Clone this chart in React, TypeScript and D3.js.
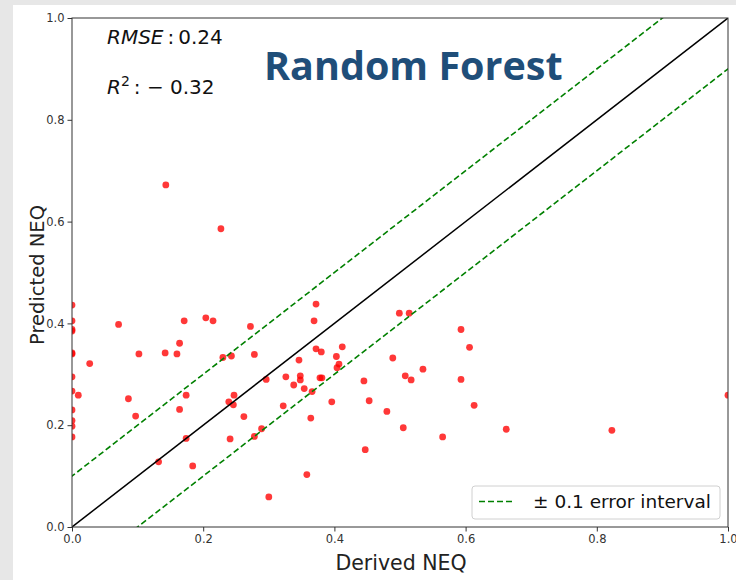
import React, { useEffect, useRef } from 'react';
import * as d3 from 'd3';

// derived NEQ (x) vs predicted NEQ (y)
const derived = [
  0, 0, 0, 0, 0, 0, 0, 0, 0, 0, 0, 0,
  0.0096, 0.027, 0.071, 0.086, 0.097, 0.102, 0.132, 0.142, 0.143, 0.16,
  0.164, 0.164, 0.171, 0.174, 0.174, 0.184, 0.204, 0.215, 0.227, 0.23,
  0.243, 0.239, 0.247, 0.246, 0.241, 0.262, 0.272, 0.278, 0.278, 0.289,
  0.296, 0.3, 0.322, 0.326, 0.338, 0.346, 0.348, 0.348, 0.354, 0.366,
  0.372, 0.369, 0.372, 0.38, 0.412, 0.403, 0.407, 0.404, 0.378, 0.381,
  0.396, 0.364, 0.358, 0.445, 0.453, 0.447, 0.48, 0.489, 0.499, 0.514,
  0.508, 0.517, 0.505, 0.535, 0.565, 0.593, 0.606, 0.593, 0.613, 0.662,
  0.823, 1.0,
];
const predicted = [
  0.436, 0.405, 0.388, 0.385, 0.34, 0.342, 0.295, 0.267, 0.23, 0.209, 0.198, 0.177,
  0.259, 0.321, 0.398, 0.252, 0.218, 0.34, 0.128, 0.342, 0.672, 0.34,
  0.361, 0.231, 0.405, 0.259, 0.174, 0.12, 0.411, 0.405, 0.586, 0.333,
  0.336, 0.246, 0.259, 0.24, 0.173, 0.217, 0.394, 0.339, 0.178, 0.193,
  0.29, 0.059, 0.238, 0.295, 0.279, 0.328, 0.297, 0.289, 0.272, 0.266,
  0.438, 0.405, 0.35, 0.344, 0.354, 0.335, 0.32, 0.313, 0.293, 0.293,
  0.246, 0.214, 0.103, 0.287, 0.248, 0.152, 0.227, 0.332, 0.42, 0.42,
  0.297, 0.289, 0.195, 0.31, 0.177, 0.388, 0.353, 0.29, 0.239, 0.192,
  0.19, 0.259,
];
const ticks = [0, 0.2, 0.4, 0.6, 0.8, 1.0];
const errorBand = 0.1;
const rmse = '0.24';
const r2 = '0.32';

export default function App() {
  const ref = useRef<SVGSVGElement>(null);

  useEffect(() => {
    const width = 736, height = 580;
    const left = 72, right = 728, top = 18, bottom = 527;
    const svg = d3.select(ref.current);
    svg.selectAll('*').remove();

    // slide background
    svg.append('rect').attr('width', width).attr('height', height).attr('fill', '#e7e7e7');
    svg.append('rect').attr('x', 13).attr('y', 5).attr('width', width - 13).attr('height', height - 5).attr('fill', '#fff');

    const x = d3.scaleLinear().domain([0, 1]).range([left, right]);
    const y = d3.scaleLinear().domain([0, 1]).range([bottom, top]);

    svg.append('clipPath').attr('id', 'plotclip')
      .append('rect').attr('x', left).attr('y', top).attr('width', right - left).attr('height', bottom - top);

    const plot = svg.append('g').attr('clip-path', 'url(#plotclip)');

    // points
    plot.selectAll('circle')
      .data(derived.map((d, i) => [d, predicted[i]]))
      .enter()
      .append('circle')
      .attr('cx', (d) => x(d[0]))
      .attr('cy', (d) => y(d[1]))
      .attr('r', 3.4)
      .attr('fill', '#ff0000')
      .attr('fill-opacity', 0.78);

    const line = d3.line<number[]>().x((d) => x(d[0])).y((d) => y(d[1]));

    plot.append('path')
      .attr('d', line([[0, 0], [1, 1]]))
      .attr('stroke', '#000').attr('stroke-width', 1.5).attr('fill', 'none');
    [errorBand, -errorBand].forEach((off) => {
      plot.append('path')
        .attr('d', line([[-1, -1 + off], [2, 2 + off]]))
        .attr('stroke', '#008000').attr('stroke-width', 1.6)
        .attr('stroke-dasharray', '6,3').attr('fill', 'none');
    });

    // axes
    const xAxis = svg.append('g').attr('transform', `translate(0,${bottom})`)
      .call(d3.axisBottom(x).tickValues(ticks).tickFormat(d3.format('.1f')).tickSize(4.5).tickPadding(3));
    const yAxis = svg.append('g').attr('transform', `translate(${left},0)`)
      .call(d3.axisLeft(y).tickValues(ticks).tickFormat(d3.format('.1f')).tickSize(4.5).tickPadding(3));
    [xAxis, yAxis].forEach((a) => {
      a.select('.domain').remove();
      a.selectAll('line').attr('stroke', '#333');
      a.selectAll('text').attr('font-family', 'DejaVu Sans').attr('font-size', 11.5).attr('fill', '#333');
    });

    svg.append('rect')
      .attr('x', left).attr('y', top).attr('width', right - left).attr('height', bottom - top)
      .attr('fill', 'none').attr('stroke', '#333').attr('stroke-width', 1);

    // axis labels
    svg.append('text')
      .attr('x', 401).attr('y', 570)
      .attr('text-anchor', 'middle')
      .attr('font-family', 'DejaVu Sans').attr('font-size', 20.5).attr('fill', '#222')
      .text('Derived NEQ');
    svg.append('text')
      .attr('transform', `translate(44,275) rotate(-90)`)
      .attr('text-anchor', 'middle')
      .attr('font-family', 'DejaVu Sans').attr('font-size', 19.5).attr('fill', '#222')
      .text('Predicted NEQ');

    // metrics
    const m1 = svg.append('text').attr('x', 107).attr('y', 44)
      .attr('font-family', 'DejaVu Sans').attr('font-size', 20).attr('fill', '#111')
      .attr('xml:space', 'preserve');
    m1.append('tspan').attr('font-style', 'italic').text('RMSE');
    m1.append('tspan').text(`\u2009:\u2009${rmse}`);
    const m2 = svg.append('text').attr('x', 107).attr('y', 94)
      .attr('font-family', 'DejaVu Sans').attr('font-size', 20).attr('fill', '#111');
    m2.append('tspan').attr('font-style', 'italic').text('R');
    m2.append('tspan').attr('font-size', 14).attr('dy', -8).text('2');
    m2.append('tspan').attr('dy', 8).text(`\u2009: \u2212 ${r2}`);

    svg.append('text')
      .attr('x', 264).attr('y', 80)
      .attr('font-family', 'Open Sans').attr('font-weight', 'bold').attr('font-size', 39.5)
      .attr('fill', '#1f4e79')
      .text('Random Forest');

    // legend
    const lg = svg.append('g');
    lg.append('rect')
      .attr('x', 472).attr('y', 486).attr('width', 248).attr('height', 33).attr('rx', 3)
      .attr('fill', '#fff').attr('fill-opacity', 0.8).attr('stroke', '#d0d0d0');
    lg.append('line')
      .attr('x1', 479).attr('x2', 514).attr('y1', 501.5).attr('y2', 501.5)
      .attr('stroke', '#008000').attr('stroke-width', 1.6).attr('stroke-dasharray', '6,3');
    lg.append('text')
      .attr('x', 533).attr('y', 508)
      .attr('font-family', 'DejaVu Sans').attr('font-size', 18.5).attr('fill', '#111')
      .text(`\u00b1 ${errorBand} error interval`);
  }, []);

  return (
    <svg ref={ref} width={736} height={580}
      style={{ position: 'absolute', left: 0, top: 0, display: 'block' }} />
  );
}
